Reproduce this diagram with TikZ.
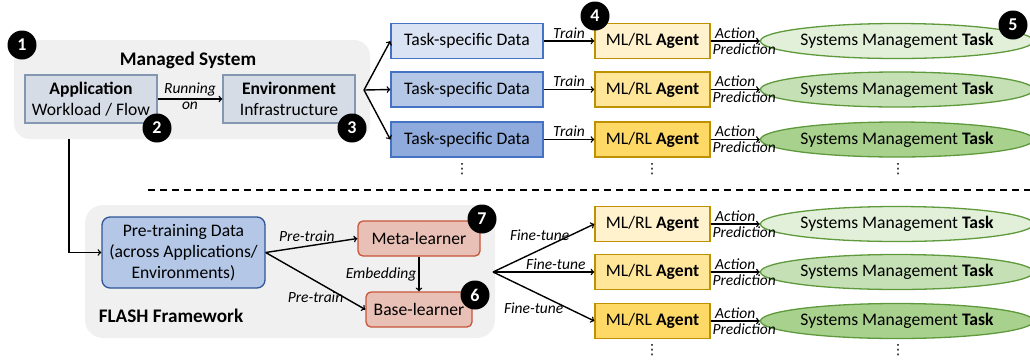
\documentclass[tikz,border=0pt]{standalone}
\usepackage{fontspec}
\setmainfont{Carlito}
\newfontfamily\dotsfont{DejaVu Sans}
\usepackage{tikz}
\usetikzlibrary{arrows, shapes.geometric, calc, positioning}

\definecolor{bggray}{HTML}{F0F0F0}
\definecolor{appfill}{HTML}{D6DCE5}
\definecolor{appline}{HTML}{8497B0}
\definecolor{dataline}{HTML}{4472C4}
\definecolor{dataA}{HTML}{DAE3F3}
\definecolor{dataB}{HTML}{B4C7E7}
\definecolor{dataC}{HTML}{8FAADC}
\definecolor{preline}{HTML}{2F5597}
\definecolor{agentline}{HTML}{BF9000}
\definecolor{agentA}{HTML}{FFF2CC}
\definecolor{agentB}{HTML}{FFE699}
\definecolor{agentC}{HTML}{FFD966}
\definecolor{taskline}{HTML}{5E9A3C}
\definecolor{taskA}{HTML}{E2F0D9}
\definecolor{taskB}{HTML}{C5E0B4}
\definecolor{taskC}{HTML}{A9D18E}
\definecolor{learnfill}{HTML}{E9C0B6}
\definecolor{learnline}{HTML}{C8553A}

\tikzset{
  appbox/.style={draw=appline, fill=appfill, line width=1.3pt, minimum width=132pt, minimum height=48pt, align=center},
  databox/.style={draw=dataline, line width=1.3pt, minimum width=152pt, minimum height=35pt},
  agentbox/.style={draw=agentline, line width=1.3pt, minimum width=115pt, minimum height=35pt},
  taskell/.style={ellipse, draw=taskline, line width=1.3pt, minimum width=268pt, minimum height=35pt, inner sep=0pt},
  learnbox/.style={draw=learnline, fill=learnfill, rounded corners=5pt, line width=1.3pt, minimum height=35pt},
  badge/.style={circle, fill=black, text=white, font=\bfseries\fontsize{18}{18}\selectfont, minimum size=29pt, inner sep=0pt},
  grouptitle/.style={font=\bfseries\fontsize{19.2}{21}\selectfont},
  lbl/.style={font=\itshape\fontsize{15.5}{17}\selectfont, inner sep=2pt},
  morerows/.style={inner sep=0pt, font=\dotsfont\fontsize{14}{14}\selectfont},
  conn/.style={->, line width=1.4pt},
}

\begin{document}
\begin{tikzpicture}[x=1pt, y=-1pt, font=\fontsize{17.6}{21}\selectfont]
\useasboundingbox (0,0) rectangle (1030,360);

% managed system
\fill[bggray, rounded corners=16pt] (14,40) rectangle (370,139);
\node[grouptitle] (mstitle) at (188,60) {Managed System};
\node[appbox] (app) at (91,99) {\textbf{Application}\\Workload / Flow};
\node[appbox] (env) at (289,99) {\textbf{Environment}\\Infrastructure};
\draw[conn] (app) -- node[lbl, above] {Running} node[lbl, below] {on} (env);
\coordinate (fanA) at (364,90);
\coordinate (msout) at (69,139);

% task-specific rows
\node[databox, fill=dataA] (dA) at (467,41) {Task-specific Data};
\node[databox, fill=dataB] (dB) at (467,89.5) {Task-specific Data};
\node[databox, fill=dataC] (dC) at (467,139.5) {Task-specific Data};
\draw[conn] (fanA) -- (dA.west);
\draw[conn] (fanA) -- (dB.west);
\draw[conn] (fanA) -- (dC.west);

\node[agentbox, fill=agentA] (aA) at (652.5,41) {ML/RL \textbf{Agent}};
\node[agentbox, fill=agentB] (aB) at (652.5,89.5) {ML/RL \textbf{Agent}};
\node[agentbox, fill=agentC] (aC) at (652.5,139.5) {ML/RL \textbf{Agent}};
\draw[conn] (dA) -- node[lbl, above] {Train} (aA);
\draw[conn] (dB) -- node[lbl, above] {Train} (aB);
\draw[conn] (dC) -- node[lbl, above] {Train} (aC);

\node[taskell, fill=taskA] (tA) at (897,41) {Systems Management \textbf{Task}};
\node[taskell, fill=taskB] (tB) at (897,89.5) {Systems Management \textbf{Task}};
\node[taskell, fill=taskC] (tC) at (897,139.5) {Systems Management \textbf{Task}};
\draw[conn] (aA) -- node[lbl, above] {Action} node[lbl, below, xshift=9pt] {Prediction} (tA);
\draw[conn] (aB) -- node[lbl, above] {Action} node[lbl, below, xshift=9pt] {Prediction} (tB);
\draw[conn] (aC) -- node[lbl, above] {Action} node[lbl, below, xshift=9pt] {Prediction} (tC);

\node[morerows] (dotsD) at (462,169) {⋮};
\node[morerows] (dotsA) at (652,169) {⋮};
\node[morerows] (dotsT) at (898,169) {⋮};

% separator
\draw[dashed, dash pattern=on 7pt off 5pt, line width=1.6pt] (148,190) -- (1030,190);

% FLASH framework
\fill[bggray, rounded corners=18pt] (85,205) rectangle (495,338);
\node[grouptitle] (flash) at (171,316) {FLASH Framework};
\node[draw=preline, fill=dataB, rounded corners=8pt, line width=1.3pt, minimum width=163pt, minimum height=71pt, align=center] (pre) at (183.5,252.5) {Pre-training Data\\(across Applications/\\Environments)};
\draw[conn] (msout) |- (pre.west);
\node[learnbox, minimum width=122pt] (meta) at (419,238.5) {Meta-learner};
\node[learnbox, minimum width=106pt] (base) at (419,309.5) {Base-learner};
\draw[conn] (pre.east) -- node[lbl, above=2pt, pos=0.45] {Pre-train} (meta.west);
\draw[conn] (pre.east) -- node[lbl, below=8pt, midway] {Pre-train} (base.west);
\draw[conn] (meta) -- node[lbl, left] {Embedding} (base);
\coordinate (fanB) at (493,272);

\node[agentbox, fill=agentA] (fA) at (652.5,224) {ML/RL \textbf{Agent}};
\node[agentbox, fill=agentB] (fB) at (652.5,272) {ML/RL \textbf{Agent}};
\node[agentbox, fill=agentC] (fC) at (652.5,321) {ML/RL \textbf{Agent}};
\draw[conn] (fanB) -- node[lbl, above=5pt, xshift=-4pt, midway] {Fine-tune} (fA.west);
\draw[conn] (fanB) -- node[lbl, above, pos=0.62] {Fine-tune} (fB.west);
\draw[conn] (fanB) -- node[lbl, below=4pt, xshift=-10pt, midway] {Fine-tune} (fC.west);

\node[taskell, fill=taskA] (gA) at (897,224) {Systems Management \textbf{Task}};
\node[taskell, fill=taskB] (gB) at (897,272) {Systems Management \textbf{Task}};
\node[taskell, fill=taskC] (gC) at (897,321) {Systems Management \textbf{Task}};
\draw[conn] (fA) -- node[lbl, above] {Action} node[lbl, below, xshift=9pt] {Prediction} (gA);
\draw[conn] (fB) -- node[lbl, above] {Action} node[lbl, below, xshift=9pt] {Prediction} (gB);
\draw[conn] (fC) -- node[lbl, above] {Action} node[lbl, below, xshift=9pt] {Prediction} (gC);

\node[morerows] (dotsF) at (652,350) {⋮};
\node[morerows] (dotsG) at (898,350) {⋮};

% numbered badges
\node[badge] (b1) at (22,45) {1};
\node[badge] (b2) at (157,128) {2};
\node[badge] (b3) at (352,128) {3};
\node[badge] (b4) at (595,16) {4};
\node[badge] (b5) at (1013,25) {5};
\node[badge] (b6) at (475,295) {6};
\node[badge] (b7) at (482,219) {7};
\end{tikzpicture}
\end{document}
